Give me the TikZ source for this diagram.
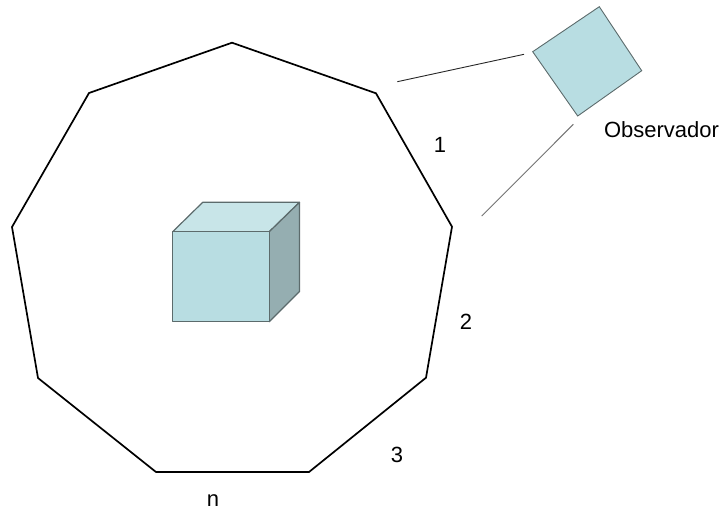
\documentclass[tikz,border=0pt]{standalone}
\usepackage{fontspec}
\setmainfont{Liberation Sans}
\definecolor{faceFront}{HTML}{B8DDE2}
\definecolor{faceTop}{HTML}{C8E5E8}
\definecolor{faceSide}{HTML}{95AEB1}
\definecolor{edgeGray}{HTML}{5C6B6C}
\tikzset{
  wall/.style={draw=black, line width=1.7pt, line join=miter},
  face/.style={draw=edgeGray, line width=1.2pt, line join=round},
  sight/.style={line width=0.9pt},
  lbl/.style={font=\fontsize{22}{26}\selectfont, inner sep=0pt}
}
\begin{document}
\begin{tikzpicture}[x=1pt, y=-1pt]
\useasboundingbox (0,0) rectangle (722,515);
% nine-sided enclosure
\coordinate (p1) at (232,42.7);
\coordinate (p2) at (376,93.3);
\coordinate (p3) at (452,226.7);
\coordinate (p4) at (426,377.7);
\coordinate (p5) at (309,472);
\coordinate (p6) at (156,472);
\coordinate (p7) at (38,378);
\coordinate (p8) at (12,227);
\coordinate (p9) at (89,93);
\draw[wall] (p1) -- (p2) -- (p3) -- (p4) -- (p5) -- (p6) -- (p7) -- (p8) -- (p9) -- cycle;
% cube in the centre
\coordinate (fa) at (172.7,231.7);
\coordinate (fb) at (269.3,231.7);
\coordinate (fc) at (269.3,321.7);
\coordinate (fd) at (172.7,321.7);
\coordinate (ta) at (202.7,202.3);
\coordinate (tb) at (299.5,202.3);
\coordinate (tc) at (299.5,291.5);
\filldraw[face, fill=faceTop] (fa) -- (ta) -- (tb) -- (fb) -- cycle;
\filldraw[face, fill=faceSide] (fb) -- (tb) -- (tc) -- (fc) -- cycle;
\filldraw[face, fill=faceFront] (fa) -- (fb) -- (fc) -- (fd) -- cycle;
% observer
\coordinate (o1) at (532.7,51.7);
\coordinate (o2) at (599.3,6.7);
\coordinate (o3) at (641.7,70.7);
\coordinate (o4) at (577.7,116);
\filldraw[draw=edgeGray, line width=0.9pt, fill=faceFront] (o1) -- (o2) -- (o3) -- (o4) -- cycle;
% lines of sight
\coordinate (s1a) at (397.3,81.7);
\coordinate (s1b) at (524,54.3);
\coordinate (s2a) at (481.7,216);
\coordinate (s2b) at (573.3,124.3);
\draw[sight, black!85] (s1a) -- (s1b);
\draw[sight, black!55] (s2a) -- (s2b);
% labels
\node[lbl] (l1) at (440,145) {1};
\node[lbl] (l2) at (466,322) {2};
\node[lbl] (l3) at (397,455) {3};
\node[lbl] (ln) at (213,501) {n};
\node[lbl] (obs) at (661.5,130) {Observador};
\end{tikzpicture}
\end{document}
